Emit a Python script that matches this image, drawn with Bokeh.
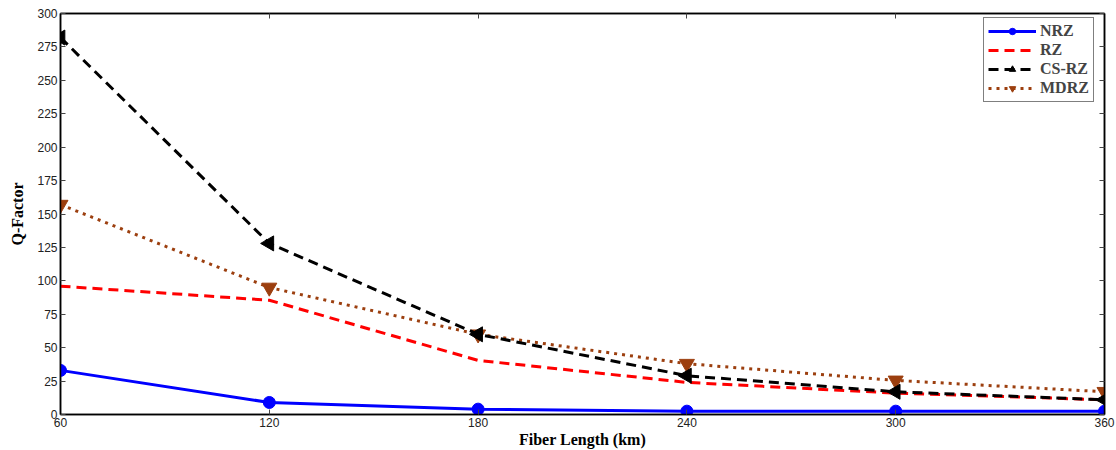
from bokeh.plotting import figure
from bokeh.models import LinearAxis, Range1d, FixedTicker, Legend, LegendItem
from bokeh.embed import file_html
from bokeh.resources import INLINE

fiber_length = [60, 120, 180, 240, 300, 360]
nrz = [33, 9, 4, 2.5, 2.5, 2.5]
rz = [96, 85.5, 40.5, 24, 16, 11]
csrz = [282, 128, 60, 29, 17, 11]
mdrz = [157, 95, 60, 38, 25.5, 17]
x_ticks = [60, 120, 180, 240, 300, 360]
y_ticks = list(range(0, 301, 25))

p = figure(width=1116, height=450, output_backend="svg", toolbar_location=None,
           x_range=Range1d(60, 360), y_range=Range1d(0, 300),
           min_border_left=60, min_border_right=12, min_border_top=13, min_border_bottom=36)
p.xgrid.visible = False
p.ygrid.visible = False
p.outline_line_color = "black"
p.outline_line_width = 1.5
p.background_fill_color = "white"
p.border_fill_color = "white"

def style_axis(ax):
    ax.major_tick_in = 5
    ax.major_tick_out = 0
    ax.minor_tick_in = 0
    ax.minor_tick_out = 0
    ax.axis_line_color = "black"
    ax.axis_line_width = 1.5
    ax.major_tick_line_color = "#444444"
    ax.major_label_text_font = "Liberation Sans"
    ax.major_label_text_font_size = "12px"
    ax.major_label_text_color = "#222222"

p.xaxis.ticker = FixedTicker(ticks=x_ticks)
p.yaxis.ticker = FixedTicker(ticks=y_ticks)
style_axis(p.xaxis[0])
style_axis(p.yaxis[0])
p.xaxis.major_label_standoff = 3
p.yaxis.major_label_standoff = 3
p.xaxis.axis_label = "Fiber Length (km)"
p.yaxis.axis_label = "Q-Factor"
for ax in (p.xaxis[0], p.yaxis[0]):
    ax.axis_label_text_font = "Liberation Serif"
    ax.axis_label_text_font_style = "bold"
    ax.axis_label_text_font_size = "16px"
    ax.axis_label_text_color = "black"
p.xaxis.axis_label_standoff = 1
p.yaxis.axis_label_standoff = 8

top = LinearAxis(ticker=FixedTicker(ticks=x_ticks),
                 major_label_overrides={t: "" for t in x_ticks})
style_axis(top)
top.major_label_standoff = 0
p.add_layout(top, "above")
right = LinearAxis(ticker=FixedTicker(ticks=y_ticks),
                   major_label_overrides={t: "" for t in y_ticks})
style_axis(right)
right.major_label_standoff = 0
p.add_layout(right, "right")

brown = "#9c3f0f"
l1 = p.line(fiber_length, nrz, line_color="blue", line_width=3)
m1 = p.scatter(fiber_length, nrz, marker="circle", size=12, fill_color="blue", line_color="blue")
l2 = p.line(fiber_length, rz, line_color="red", line_width=3, line_dash="10 6")
l4 = p.line(fiber_length, mdrz, line_color=brown, line_width=3, line_dash="3 5")
m4 = p.scatter(fiber_length, mdrz, marker="inverted_triangle", size=15, fill_color=brown, line_color=brown)
l3 = p.line(fiber_length, csrz, line_color="black", line_width=3, line_dash="10 6")
m3 = p.scatter(fiber_length, csrz, marker="triangle", angle=1.5708, size=15, fill_color="black", line_color="black")

legend = Legend(items=[
    LegendItem(label="NRZ", renderers=[l1, m1]),
    LegendItem(label="RZ", renderers=[l2]),
    LegendItem(label="CS-RZ", renderers=[l3, m3]),
    LegendItem(label="MDRZ", renderers=[l4, m4]),
], location=(923, 312))
legend.label_text_font = "Liberation Serif"
legend.label_text_font_style = "bold"
legend.label_text_font_size = "16px"
legend.label_height = 16
legend.glyph_height = 16
legend.glyph_width = 48
legend.spacing = 1
legend.padding = 4
legend.margin = 0
legend.label_standoff = 4
legend.border_line_color = "black"
legend.border_line_width = 1
p.add_layout(legend)

open("out.html", "w").write(file_html(p, INLINE))
